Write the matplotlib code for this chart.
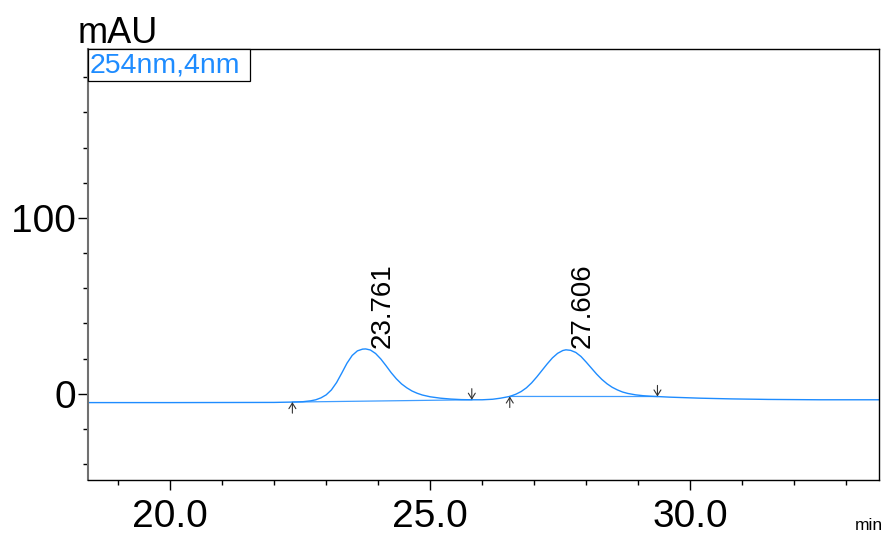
import matplotlib
matplotlib.use("Agg")
import matplotlib.pyplot as plt
from matplotlib.ticker import MultipleLocator, FixedLocator
from matplotlib.patches import Rectangle

plt.rcParams['font.family'] = ['Liberation Sans', 'DejaVu Sans']

# ---- data ----
time_min = [18.42, 20.0, 21.0, 22.0, 22.35, 22.55, 22.7, 22.8, 22.9, 23.0, 23.1, 23.2,
            23.3, 23.4, 23.5, 23.6, 23.7, 23.76, 23.85, 23.95, 24.05, 24.15, 24.25,
            24.35, 24.45, 24.55, 24.65, 24.75, 24.85, 25.0, 25.2, 25.4, 25.6, 25.8,
            26.0, 26.2, 26.35, 26.53, 26.65, 26.75, 26.85, 26.95, 27.05, 27.15, 27.25,
            27.35, 27.45, 27.55, 27.61, 27.7, 27.8, 27.9, 28.0, 28.1, 28.2, 28.3, 28.4,
            28.5, 28.6, 28.7, 28.8, 28.95, 29.1, 29.25, 29.4, 29.6, 29.8, 30.2, 30.8,
            31.5, 32.5, 33.63]
signal_mau = [-5.0, -5.0, -4.95, -4.9, -4.7, -4.5, -4.0, -3.4, -2.3, -0.6, 2.2, 6.4,
              11.8, 17.4, 21.8, 24.4, 25.4, 25.5, 24.9, 22.9, 19.8, 16.0, 12.0,
              8.5, 5.6, 3.4, 1.6, 0.3, -0.7, -1.7, -2.5, -3.0, -3.3, -3.4,
              -3.4, -3.1, -2.5, -1.5, -0.2, 1.3, 3.4, 6.2, 9.6, 13.3, 17.0,
              20.4, 23.0, 24.6, 25.0, 24.7, 23.5, 21.2, 18.0, 14.6, 11.2, 8.2, 5.7,
              3.7, 2.2, 1.0, 0.2, -0.6, -1.1, -1.4, -1.6, -1.9, -2.1, -2.5, -2.9,
              -3.2, -3.4, -3.4]

peak_times = [23.761, 27.606]
peak_heights = [25.5, 25.0]
peak_labels = ["23.761", "27.606"]

# integration start / end markers (time, signal)
start_times = [22.35, 26.53]
start_values = [-4.7, -1.5]
end_times = [25.80, 29.37]
end_values = [-3.4, -1.55]

x_tick_values = [20.0, 25.0, 30.0]
x_tick_labels = ["20.0", "25.0", "30.0"]
y_tick_values = [0, 100]
y_tick_labels = ["0", "100"]

trace_color = '#1e8cff'

fig = plt.figure(figsize=(8.89, 5.35), dpi=100)
ax = fig.add_axes([88/889, 55/535, (879-88)/889, (480-49)/535])

ax.plot(time_min, signal_mau, color=trace_color, lw=1.0)
# integration baselines
for t0, v0, t1, v1 in zip(start_times, start_values, end_times, end_values):
    ax.plot([t0, t1], [v0, v1], color=trace_color, lw=0.9, alpha=0.85)

# markers
arrow_style = '->,head_length=0.4,head_width=0.25'
for t, v in zip(start_times, start_values):
    ax.annotate('', xy=(t, v), xytext=(0, -8), textcoords='offset points',
                arrowprops=dict(arrowstyle=arrow_style, color='#333333', lw=0.8,
                                shrinkA=0, shrinkB=0))
for t, v in zip(end_times, end_values):
    ax.annotate('', xy=(t, v), xytext=(0, 8), textcoords='offset points',
                arrowprops=dict(arrowstyle=arrow_style, color='#333333', lw=0.8,
                                shrinkA=0, shrinkB=0))

for t, h, lab in zip(peak_times, peak_heights, peak_labels):
    ax.annotate(lab, xy=(t, h), xytext=(3, 1), textcoords='offset points',
                rotation=90, ha='left', va='bottom', fontsize=20, color='black')

ax.set_xlim(18.42, 33.63)
ax.set_ylim(-49, 196)

ax.xaxis.set_major_locator(FixedLocator(x_tick_values))
ax.set_xticklabels(x_tick_labels)
ax.xaxis.set_minor_locator(MultipleLocator(1.0))
ax.yaxis.set_major_locator(FixedLocator(y_tick_values))
ax.set_yticklabels(y_tick_labels)
ax.yaxis.set_minor_locator(MultipleLocator(20))

ax.tick_params(axis='both', which='major', length=7.5, width=1, labelsize=28, color='black')
ax.tick_params(axis='both', which='minor', length=3.8, width=1, color='black')
ax.tick_params(axis='y', which='major', pad=1)
ax.tick_params(axis='x', which='major', pad=6)

for side in ['top', 'right', 'bottom']:
    ax.spines[side].set_color('black')
    ax.spines[side].set_linewidth(1.0)
ax.spines['left'].set_color('#707070')
ax.spines['left'].set_linewidth(1.5)

# legend box
box_w = (250 - 88) / 791
box_h = (80 - 48) / 431
ax.add_patch(Rectangle((0.0, 1.0 - box_h), box_w, box_h, transform=ax.transAxes,
                       facecolor='white', edgecolor='black', lw=0.9, zorder=5,
                       clip_on=False))
ax.text(0.002, 1.0 - box_h / 2, "254nm,4nm", transform=ax.transAxes, ha='left',
        va='center', fontsize=20.5, color=trace_color, zorder=6)

fig.text(78/889, 1 - 43/535, "mAU", fontsize=26, ha='left', va='baseline')
fig.text(855/889, 1 - 530/535, "min", fontsize=12.5, ha='left', va='baseline')

fig.savefig('out.png', dpi=100)
